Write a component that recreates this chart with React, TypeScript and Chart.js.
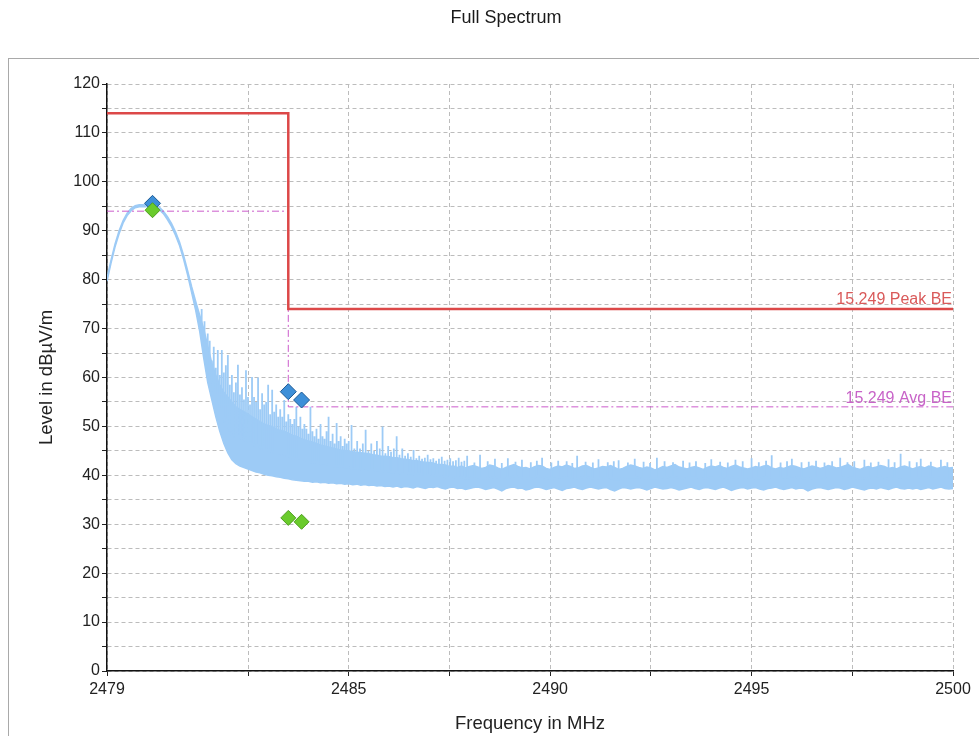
import React, { useEffect, useRef } from 'react';
import { Chart, registerables } from 'chart.js';

Chart.register(...registerables);

const chartTitle = 'Full Spectrum';
const xAxisTitle = 'Frequency in MHz';
const yAxisTitle = 'Level in dBµV/m';

const xTickValues = [2479, 2482.5, 2485, 2487.5, 2490, 2492.5, 2495, 2497.5, 2500];
const xTickLabels = ['2479', '', '2485', '', '2490', '', '2495', '', '2500'];

// spectrum trace, sampled every 0.1 MHz: upper and lower edge of the noisy trace
const traceFreq = [
  2479.0, 2479.1, 2479.2, 2479.3, 2479.4, 2479.5, 2479.6, 2479.7, 2479.8, 2479.9,
  2480.0, 2480.1, 2480.2, 2480.3, 2480.4, 2480.5, 2480.6, 2480.7, 2480.8, 2480.9,
  2481.0, 2481.1, 2481.2, 2481.3, 2481.4, 2481.5, 2481.6, 2481.7, 2481.8, 2481.9,
  2482.0, 2482.1, 2482.2, 2482.3, 2482.4, 2482.5, 2482.6, 2482.7, 2482.8, 2482.9,
  2483.0, 2483.1, 2483.2, 2483.3, 2483.4, 2483.5, 2483.6, 2483.7, 2483.8, 2483.9,
  2484.0, 2484.1, 2484.2, 2484.3, 2484.4, 2484.5, 2484.6, 2484.7, 2484.8, 2484.9,
  2485.0, 2485.1, 2485.2, 2485.3, 2485.4, 2485.5, 2485.6, 2485.7, 2485.8, 2485.9,
  2486.0, 2486.1, 2486.2, 2486.3, 2486.4, 2486.5, 2486.6, 2486.7, 2486.8, 2486.9,
  2487.0, 2487.1, 2487.2, 2487.3, 2487.4, 2487.5, 2487.6, 2487.7, 2487.8, 2487.9,
  2488.0, 2488.1, 2488.2, 2488.3, 2488.4, 2488.5, 2488.6, 2488.7, 2488.8, 2488.9,
  2489.0, 2489.1, 2489.2, 2489.3, 2489.4, 2489.5, 2489.6, 2489.7, 2489.8, 2489.9,
  2490.0, 2490.1, 2490.2, 2490.3, 2490.4, 2490.5, 2490.6, 2490.7, 2490.8, 2490.9,
  2491.0, 2491.1, 2491.2, 2491.3, 2491.4, 2491.5, 2491.6, 2491.7, 2491.8, 2491.9,
  2492.0, 2492.1, 2492.2, 2492.3, 2492.4, 2492.5, 2492.6, 2492.7, 2492.8, 2492.9,
  2493.0, 2493.1, 2493.2, 2493.3, 2493.4, 2493.5, 2493.6, 2493.7, 2493.8, 2493.9,
  2494.0, 2494.1, 2494.2, 2494.3, 2494.4, 2494.5, 2494.6, 2494.7, 2494.8, 2494.9,
  2495.0, 2495.1, 2495.2, 2495.3, 2495.4, 2495.5, 2495.6, 2495.7, 2495.8, 2495.9,
  2496.0, 2496.1, 2496.2, 2496.3, 2496.4, 2496.5, 2496.6, 2496.7, 2496.8, 2496.9,
  2497.0, 2497.1, 2497.2, 2497.3, 2497.4, 2497.5, 2497.6, 2497.7, 2497.8, 2497.9,
  2498.0, 2498.1, 2498.2, 2498.3, 2498.4, 2498.5, 2498.6, 2498.7, 2498.8, 2498.9,
  2499.0, 2499.1, 2499.2, 2499.3, 2499.4, 2499.5, 2499.6, 2499.7, 2499.8, 2499.9,
  2500.0,
];

const traceUpper = [
  80.3, 84.0, 87.3, 90.0, 92.1, 93.6, 94.6, 95.1, 95.3, 95.3,
  95.3, 95.3, 95.1, 94.8, 94.0, 92.9, 91.5, 89.8, 87.7, 85.0,
  81.9, 78.6, 75.6, 72.8, 70.0, 66.5, 63.0, 60.5, 58.5, 57.0,
  56.0, 55.0, 54.0, 53.5, 53.0, 52.5, 52.0, 51.5, 51.0, 50.5,
  50.2, 50.0, 49.5, 49.2, 49.0, 48.6, 48.2, 48.0, 47.6, 47.3,
  47.0, 46.8, 46.5, 46.2, 46.0, 45.8, 45.6, 45.4, 45.2, 45.1,
  45.0, 44.8, 44.7, 44.6, 44.5, 44.4, 44.2, 44.1, 43.9, 43.9,
  43.8, 43.6, 43.6, 43.4, 43.3, 43.2, 43.0, 43.0, 42.8, 42.7,
  42.6, 42.5, 42.2, 42.2, 42.1, 41.8, 41.9, 41.6, 41.9, 41.5,
  41.8, 42.0, 41.7, 41.4, 41.6, 42.1, 41.9, 41.5, 41.2, 41.6,
  41.9, 42.2, 41.8, 41.5, 41.6, 41.3, 41.7, 42.0, 41.9, 41.4,
  41.2, 41.6, 41.9, 41.7, 42.1, 41.8, 41.4, 41.5, 41.9, 42.0,
  41.6, 41.3, 41.5, 41.8, 41.7, 42.0, 41.6, 41.2, 41.4, 41.8,
  42.1, 41.9, 41.6, 41.4, 41.7, 41.5, 41.1, 41.4, 41.8, 41.6,
  41.9, 42.2, 41.7, 41.5, 41.3, 41.6, 41.8, 41.5, 41.2, 41.6,
  41.9, 41.7, 42.0, 41.6, 41.4, 41.8, 42.1, 41.7, 41.5, 41.3,
  41.5, 41.8, 41.6, 41.9, 42.0, 41.5, 41.3, 41.6, 41.4, 41.7,
  42.0, 41.8, 41.5, 41.3, 41.6, 41.9, 41.7, 41.4, 41.6, 42.0,
  41.8, 41.5, 41.6, 41.9, 42.2, 41.7, 41.4, 41.2, 41.6, 41.8,
  41.5, 41.7, 42.0, 41.8, 41.4, 41.6, 41.3, 41.7, 41.9, 41.6,
  41.3, 41.6, 41.8, 41.5, 41.9, 41.7, 41.4, 41.6, 41.8, 41.5,
  41.6,
];

const traceLower = [
  79.7, 83.4, 86.7, 89.4, 91.6, 93.1, 94.1, 94.7, 94.9, 94.9,
  94.9, 94.9, 94.7, 94.3, 93.5, 92.3, 90.9, 89.1, 87.0, 84.2,
  81.0, 77.4, 73.8, 69.5, 64.0, 59.0, 55.5, 52.0, 49.0, 46.5,
  44.6, 43.2, 42.4, 41.9, 41.6, 41.3, 41.0, 40.7, 40.5, 40.2,
  40.0, 39.9, 39.7, 39.6, 39.4, 39.3, 39.1, 39.0, 38.9, 38.8,
  38.8, 38.6, 38.7, 38.5, 38.6, 38.4, 38.5, 38.3, 38.4, 38.2,
  38.3, 38.1, 38.2, 38.0, 38.1, 37.9, 38.0, 37.8, 37.9, 37.7,
  37.8, 37.6, 37.8, 37.5, 37.7, 37.6, 37.4, 37.7, 37.5, 37.3,
  37.6, 37.5, 37.7, 37.4, 37.2, 37.5, 37.6, 37.3, 37.4, 37.1,
  37.3, 37.5, 37.6, 37.4, 37.1, 37.3, 37.5, 37.2, 36.8, 37.3,
  37.5, 37.6, 37.3, 37.4, 37.0, 37.2, 37.5, 37.6, 37.4, 37.1,
  37.3, 37.5, 37.2, 36.9, 37.3, 37.4, 37.6, 37.3, 37.1, 37.4,
  37.6, 37.4, 37.2, 37.4, 37.5, 37.1, 36.8, 37.2, 37.5, 37.4,
  37.2, 37.4, 37.5, 37.3, 37.0, 37.3, 37.6, 37.4, 37.2, 37.3,
  37.5, 37.3, 37.0, 37.2, 37.4, 37.6, 37.3, 37.1, 37.4, 37.5,
  37.3, 37.1, 37.4, 37.6, 37.3, 36.9, 37.2, 37.4, 37.5, 37.2,
  37.4, 37.5, 37.2, 37.0, 37.3, 37.4, 37.6, 37.3, 37.1, 37.3,
  37.5, 37.2, 37.4, 37.3, 36.8, 37.2, 37.4, 37.5, 37.3, 37.1,
  37.3, 37.5, 37.4, 37.1, 37.3, 37.6, 37.4, 37.2, 37.0, 37.3,
  37.4, 37.2, 37.5, 37.3, 37.1, 37.4, 37.6, 37.3, 37.2, 37.4,
  37.2, 37.4, 37.1, 37.3, 37.5, 37.2, 37.4, 37.6, 37.3, 37.2,
  37.3,
];

// narrow spurious spikes of the trace (frequency MHz, tip level dBµV/m)
const spikeFreq = [
  2481.35, 2481.42, 2481.50, 2481.55, 2481.60, 2481.65, 2481.70, 2481.75, 2481.80, 2481.85,
  2481.90, 2481.95, 2482.00, 2482.05, 2482.10, 2482.15, 2482.20, 2482.25, 2482.30, 2482.35,
  2482.40, 2482.45, 2482.50, 2482.55, 2482.60, 2482.65, 2482.70, 2482.75, 2482.80, 2482.85,
  2482.90, 2482.95, 2483.00, 2483.05, 2483.10, 2483.15, 2483.20, 2483.25, 2483.30, 2483.35,
  2483.40, 2483.45, 2483.50, 2483.55, 2483.60, 2483.65, 2483.70, 2483.75, 2483.80, 2483.85,
  2483.90, 2483.95, 2484.00, 2484.05, 2484.10, 2484.15, 2484.20, 2484.25, 2484.30, 2484.35,
  2484.40, 2484.45, 2484.50, 2484.55, 2484.60, 2484.65, 2484.70, 2484.75, 2484.80, 2484.85,
  2484.90, 2484.95, 2485.00, 2485.07, 2485.14, 2485.21, 2485.28, 2485.35, 2485.42, 2485.49,
  2485.56, 2485.63, 2485.70, 2485.77, 2485.84, 2485.91, 2485.98, 2486.05, 2486.12, 2486.19,
  2486.26, 2486.33, 2486.40, 2486.47, 2486.54, 2486.61, 2486.68, 2486.75, 2486.82, 2486.89,
  2486.96, 2487.03, 2487.10, 2487.17, 2487.24, 2487.31, 2487.38, 2487.45, 2487.52, 2487.59,
  2487.66, 2487.73, 2487.80, 2487.87, 2487.94, 2488.12, 2488.26, 2488.45, 2488.63, 2488.80,
  2488.95, 2489.14, 2489.30, 2489.52, 2489.67, 2489.80, 2490.03, 2490.20, 2490.41, 2490.55,
  2490.67, 2490.88, 2491.06, 2491.20, 2491.43, 2491.58, 2491.70, 2491.93, 2492.10, 2492.32,
  2492.48, 2492.65, 2492.84, 2493.05, 2493.30, 2493.46, 2493.62, 2493.85, 2494.00, 2494.22,
  2494.41, 2494.60, 2494.78, 2495.00, 2495.18, 2495.36, 2495.50, 2495.72, 2495.88, 2496.00,
  2496.24, 2496.42, 2496.60, 2496.81, 2497.00, 2497.20, 2497.38, 2497.55, 2497.80, 2497.96,
  2498.15, 2498.40, 2498.55, 2498.70, 2498.92, 2499.10, 2499.20, 2499.45, 2499.70, 2499.86,
];
const spikeLevel = [
  74.0, 71.5, 69.0, 67.5, 63.5, 66.3, 62.0, 65.6, 60.5, 65.6,
  61.0, 62.5, 64.6, 58.5, 60.5, 57.0, 59.0, 62.6, 56.5, 58.0,
  55.5, 61.5, 56.0, 54.5, 60.1, 56.0, 55.0, 60.0, 53.5, 56.8,
  54.5, 55.0, 58.5, 52.5, 57.5, 53.0, 54.5, 52.0, 53.5, 52.0,
  55.4, 51.0, 52.5, 51.5, 50.5, 51.5, 54.0, 50.0, 52.0, 49.5,
  50.5, 49.5, 48.5, 54.0, 49.0, 48.0, 49.5, 47.5, 50.5, 48.0,
  47.5, 49.0, 52.0, 47.0, 48.5, 46.5, 50.7, 47.0, 48.0, 46.0,
  47.5, 46.5, 47.0, 50.3, 45.5, 47.0, 45.5, 46.5, 49.3, 45.0,
  46.5, 45.0, 47.0, 45.5, 50.0, 44.5, 46.0, 44.8, 45.5, 48.0,
  44.2, 45.5, 44.0, 44.5, 43.8, 45.2, 43.5, 44.0, 43.4, 43.6,
  44.2, 43.3, 43.5, 43.0, 43.4, 43.8, 43.0, 43.2, 43.5, 42.9,
  43.1, 43.6, 42.8, 43.0, 44.0, 42.6, 44.2, 42.9, 43.4, 42.5,
  43.5, 42.8, 43.2, 42.7, 43.0, 43.6, 42.6, 43.0, 42.9, 42.5,
  44.0, 42.8, 42.6, 43.3, 42.7, 42.9, 43.1, 42.6, 43.4, 42.8,
  42.5, 43.6, 42.9, 42.7, 43.0, 42.6, 42.9, 42.5, 43.3, 42.8,
  42.6, 43.2, 42.9, 43.5, 42.7, 43.0, 44.1, 42.6, 42.9, 43.4,
  42.7, 42.8, 43.0, 42.6, 42.9, 43.6, 42.7, 42.9, 43.2, 42.6,
  42.8, 43.3, 42.7, 44.4, 42.9, 42.7, 43.4, 42.8, 43.2, 42.7,
];

const peakLimitName = '15.249 Peak BE';
const peakLimitFreq = [2479, 2483.5, 2483.5, 2500];
const peakLimitLevel = [114, 114, 74, 74];

const avgLimitName = '15.249 Avg BE';
const avgLimitFreq = [2479, 2483.5, 2483.5, 2500];
const avgLimitLevel = [94, 94, 54, 54];

// final measurement markers
const peakMarkerFreq = [2480.13, 2483.5, 2483.83];
const peakMarkerLevel = [95.6, 57.1, 55.4];
const avgMarkerFreq = [2480.13, 2483.5, 2483.83];
const avgMarkerLevel = [94.2, 31.3, 30.5];

const FONT = '"Liberation Sans", Arial, Helvetica, sans-serif';
const TRACE_COLOR = '#9dcbf6';

function toPoints(xs: number[], ys: number[]) {
  return xs.map((x, i) => ({ x, y: ys[i] }));
}

function buildSpikePoints() {
  const pts: { x: number; y: number }[] = [];
  spikeFreq.forEach((f, i) => {
    let j = 0;
    let best = Infinity;
    traceFreq.forEach((tf, k) => {
      const d = Math.abs(tf - f);
      if (d < best) {
        best = d;
        j = k;
      }
    });
    const base = (traceUpper[j] + traceLower[j]) / 2;
    pts.push({ x: f, y: base }, { x: f, y: spikeLevel[i] }, { x: f, y: base });
  });
  return pts;
}

const framePlugin = {
  id: 'frame',
  beforeDraw(chart: any) {
    const { ctx, width, height } = chart;
    ctx.save();
    ctx.fillStyle = '#ffffff';
    ctx.fillRect(0, 0, width, height);
    ctx.strokeStyle = '#a9a9a9';
    ctx.lineWidth = 1;
    ctx.strokeRect(8.5, 58.5, width + 20, height + 20);
    ctx.fillStyle = '#1a1a1a';
    ctx.font = '18px ' + FONT;
    ctx.textAlign = 'center';
    ctx.textBaseline = 'middle';
    ctx.fillText(chartTitle, 506, 18);
    ctx.restore();
  },
  afterDatasetsDraw(chart: any) {
    const { ctx, chartArea, scales } = chart;
    const y = scales.y;
    ctx.save();
    ctx.font = '16px ' + FONT;
    ctx.textAlign = 'right';
    ctx.textBaseline = 'alphabetic';
    ctx.fillStyle = '#d95a5a';
    ctx.fillText(peakLimitName, chartArea.right - 1, y.getPixelForValue(peakLimitLevel[3]) - 5);
    ctx.fillStyle = '#c864c8';
    ctx.fillText(avgLimitName, chartArea.right - 1, y.getPixelForValue(avgLimitLevel[3]) - 4);
    ctx.restore();
  },
};

export default function App() {
  const canvasRef = useRef<HTMLCanvasElement | null>(null);

  useEffect(() => {
    if (!canvasRef.current) return;
    const chart = new Chart(canvasRef.current, {
      type: 'line',
      data: {
        datasets: [
          {
            label: 'Average markers',
            data: toPoints(avgMarkerFreq, avgMarkerLevel),
            showLine: false,
            pointStyle: 'rectRot',
            pointRadius: 7.5,
            backgroundColor: '#6acb2c',
            borderColor: '#4e9e1e',
            borderWidth: 1,
          },
          {
            label: 'Peak markers',
            data: toPoints(peakMarkerFreq, peakMarkerLevel),
            showLine: false,
            pointStyle: 'rectRot',
            pointRadius: 8,
            backgroundColor: '#3d8fd8',
            borderColor: '#1d5a94',
            borderWidth: 1,
          },
          {
            label: peakLimitName,
            data: toPoints(peakLimitFreq, peakLimitLevel),
            borderColor: '#dc4848',
            borderWidth: 2.5,
            pointRadius: 0,
            tension: 0,
            fill: false,
          },
          {
            label: avgLimitName,
            data: toPoints(avgLimitFreq, avgLimitLevel),
            borderColor: '#cc5ccc',
            borderWidth: 1,
            borderDash: [7, 3, 2, 3],
            pointRadius: 0,
            tension: 0,
            fill: false,
          },
          {
            label: 'Spikes',
            data: buildSpikePoints(),
            borderColor: TRACE_COLOR,
            borderWidth: 1.8,
            pointRadius: 0,
            tension: 0,
            fill: false,
          },
          {
            label: 'Trace upper',
            data: toPoints(traceFreq, traceUpper),
            borderColor: TRACE_COLOR,
            backgroundColor: TRACE_COLOR,
            borderWidth: 1.5,
            pointRadius: 0,
            tension: 0,
            fill: '+1',
          },
          {
            label: 'Trace lower',
            data: toPoints(traceFreq, traceLower),
            borderColor: TRACE_COLOR,
            borderWidth: 1.5,
            pointRadius: 0,
            tension: 0,
            fill: false,
          },
        ],
      },
      options: {
        animation: false,
        responsive: false,
        maintainAspectRatio: false,
        events: [],
        layout: { padding: { left: 0, right: 26, top: 84, bottom: 0 } },
        plugins: {
          legend: { display: false },
          title: { display: false },
          tooltip: { enabled: false },
        },
        scales: {
          x: {
            type: 'linear',
            min: 2479,
            max: 2500,
            offset: false,
            afterBuildTicks: (s: any) => {
              s.ticks = xTickValues.map((v) => ({ value: v }));
            },
            afterFit: (s: any) => {
              s.height = 65;
            },
            ticks: {
              autoSkip: false,
              maxRotation: 0,
              padding: 4,
              color: '#222',
              font: { family: FONT, size: 16 },
              callback: (_v: any, i: number) => xTickLabels[i],
            },
            grid: {
              color: '#bcbcbc',
              lineWidth: 1,
              tickLength: 5,
              tickColor: '#222',
              offset: false,
            },
            border: { display: true, color: '#111', width: 1.5, dash: [4, 3] },
            title: {
              display: true,
              text: xAxisTitle,
              color: '#222',
              font: { family: FONT, size: 18.5 },
              padding: { top: 0, bottom: 1 },
            },
          },
          y: {
            type: 'linear',
            min: 0,
            max: 120,
            afterFit: (s: any) => {
              s.width = 107;
            },
            ticks: {
              stepSize: 5,
              autoSkip: false,
              padding: 2,
              color: '#222',
              font: { family: FONT, size: 16 },
              callback: (v: any) => (Number(v) % 10 === 0 ? String(v) : ''),
            },
            grid: {
              color: '#bcbcbc',
              lineWidth: 1,
              tickLength: 5,
              tickColor: '#222',
            },
            border: { display: true, color: '#111', width: 1.5, dash: [4, 3] },
            title: {
              display: true,
              text: yAxisTitle,
              color: '#222',
              font: { family: FONT, size: 18.5 },
              padding: { top: 35.5, bottom: 0 },
            },
          },
        },
      },
      plugins: [framePlugin],
    } as any);
    return () => chart.destroy();
  }, []);

  return (
    <div style={{ position: 'fixed', left: 0, top: 0, width: 979, height: 736, overflow: 'hidden', background: '#fff' }}>
      <canvas ref={canvasRef} width={979} height={736} style={{ display: 'block', width: 979, height: 736 }} />
    </div>
  );
}
